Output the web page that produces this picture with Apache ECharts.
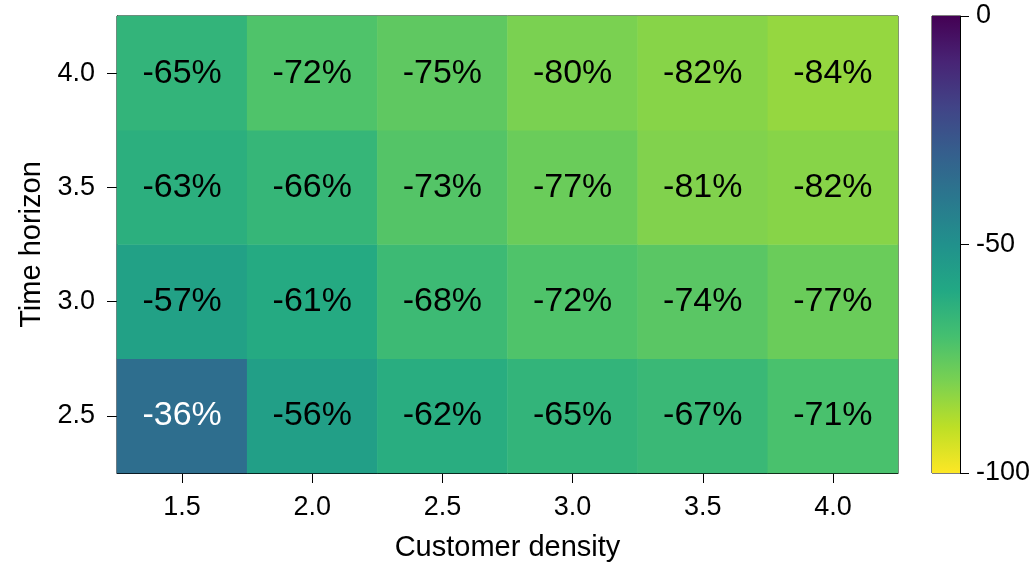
<!DOCTYPE html>
<html>
<head>
<meta charset="utf-8">
<script src="https://cdn.jsdelivr.net/npm/echarts@6/dist/echarts.min.js"></script>
<style>
  html, body { margin: 0; padding: 0; background: #fff; }
  #chart { width: 1029px; height: 562px; }
</style>
</head>
<body>
<div id="chart"></div>
<script>
// Customer density (columns) and time horizon (rows, bottom to top)
const densities = ['1.5', '2.0', '2.5', '3.0', '3.5', '4.0'];
const horizons = ['2.5', '3.0', '3.5', '4.0'];

// Percentage change per cell, one array per time horizon
const row25 = [-36, -56, -62, -65, -67, -71];
const row30 = [-57, -61, -68, -72, -74, -77];
const row35 = [-63, -66, -73, -77, -81, -82];
const row40 = [-65, -72, -75, -80, -82, -84];

// Colour bar range and ticks
const cbMin = -100;
const cbMax = 0;
const cbStep = 50;

const rows = [row25, row30, row35, row40];

// viridis, 0 -> 1
const viridis = ['#440154', '#482475', '#414487', '#355f8d', '#2a788e',
                 '#21918c', '#22a884', '#44bf70', '#7ad151', '#bddf26', '#fde725'];

const heatData = [];
rows.forEach((row, yi) => {
  row.forEach((v, xi) => {
    const item = { value: [xi, yi, v] };
    if (v > -45) item.label = { color: '#ffffff' };
    heatData.push(item);
  });
});

const FONT = '"Liberation Sans", Arial, Helvetica, sans-serif';
const TICK_FS = 27;
const NAME_FS = 29;
const CELL_FS = 34;

const chart = echarts.init(document.getElementById('chart'), null, { renderer: 'canvas' });

chart.setOption({
  backgroundColor: '#ffffff',
  animation: false,
  textStyle: { fontFamily: FONT },
  grid: [
    { left: 117, top: 16, width: 781, height: 457, show: true, borderColor: '#000', borderWidth: 1,
      backgroundColor: 'transparent', containLabel: false, outerBoundsMode: 'none' },
    { left: 932, top: 16, width: 28, height: 457, show: true, borderColor: '#000', borderWidth: 1,
      backgroundColor: 'transparent', containLabel: false, outerBoundsMode: 'none' }
  ],
  xAxis: [
    {
      gridIndex: 0, type: 'category', data: densities,
      name: 'Customer density', nameLocation: 'middle', nameGap: 60,
      nameTextStyle: { fontSize: NAME_FS, color: '#000', fontFamily: FONT },
      axisLine: { show: true, lineStyle: { color: '#000', width: 1 } },
      axisTick: { show: true, alignWithLabel: true, length: 10, lineStyle: { color: '#000', width: 1 } },
      axisLabel: { fontSize: TICK_FS, color: '#000', margin: 21, fontFamily: FONT },
      splitLine: { show: false }
    },
    {
      gridIndex: 1, type: 'category', data: ['cb'], show: false
    }
  ],
  yAxis: [
    {
      gridIndex: 0, type: 'category', data: horizons,
      name: 'Time horizon', nameLocation: 'middle', nameGap: 70, nameRotate: 90,
      nameTextStyle: { fontSize: NAME_FS, color: '#000', fontFamily: FONT },
      axisLine: { show: true, lineStyle: { color: '#000', width: 1 } },
      axisTick: { show: true, alignWithLabel: true, length: 10, lineStyle: { color: '#000', width: 1 } },
      axisLabel: { fontSize: TICK_FS, color: '#000', margin: 22, fontFamily: FONT },
      splitLine: { show: false }
    },
    {
      gridIndex: 1, type: 'value', position: 'right',
      min: cbMin, max: cbMax, interval: cbStep,
      axisLine: { show: true, lineStyle: { color: '#000', width: 1 } },
      axisTick: { show: true, length: 9, lineStyle: { color: '#000', width: 1 } },
      axisLabel: { fontSize: TICK_FS, color: '#000', margin: 16, fontFamily: FONT },
      splitLine: { show: false }
    }
  ],
  visualMap: {
    show: false, type: 'continuous', seriesIndex: 0, dimension: 2,
    min: cbMin, max: cbMax,
    inRange: { color: viridis.slice().reverse() }
  },
  series: [
    {
      type: 'heatmap', xAxisIndex: 0, yAxisIndex: 0,
      data: heatData,
      itemStyle: { borderWidth: 0 },
      emphasis: { disabled: true },
      label: {
        show: true, fontSize: CELL_FS, color: '#000', fontFamily: FONT,
        formatter: p => p.value[2] + '%'
      }
    },
    {
      type: 'bar', xAxisIndex: 1, yAxisIndex: 1,
      data: [cbMin], barWidth: '100%', silent: true,
      itemStyle: {
        color: new echarts.graphic.LinearGradient(0, 0, 0, 1,
          viridis.map((c, i) => ({ offset: i / (viridis.length - 1), color: c })))
      }
    }
  ]
});
</script>
</body>
</html>
